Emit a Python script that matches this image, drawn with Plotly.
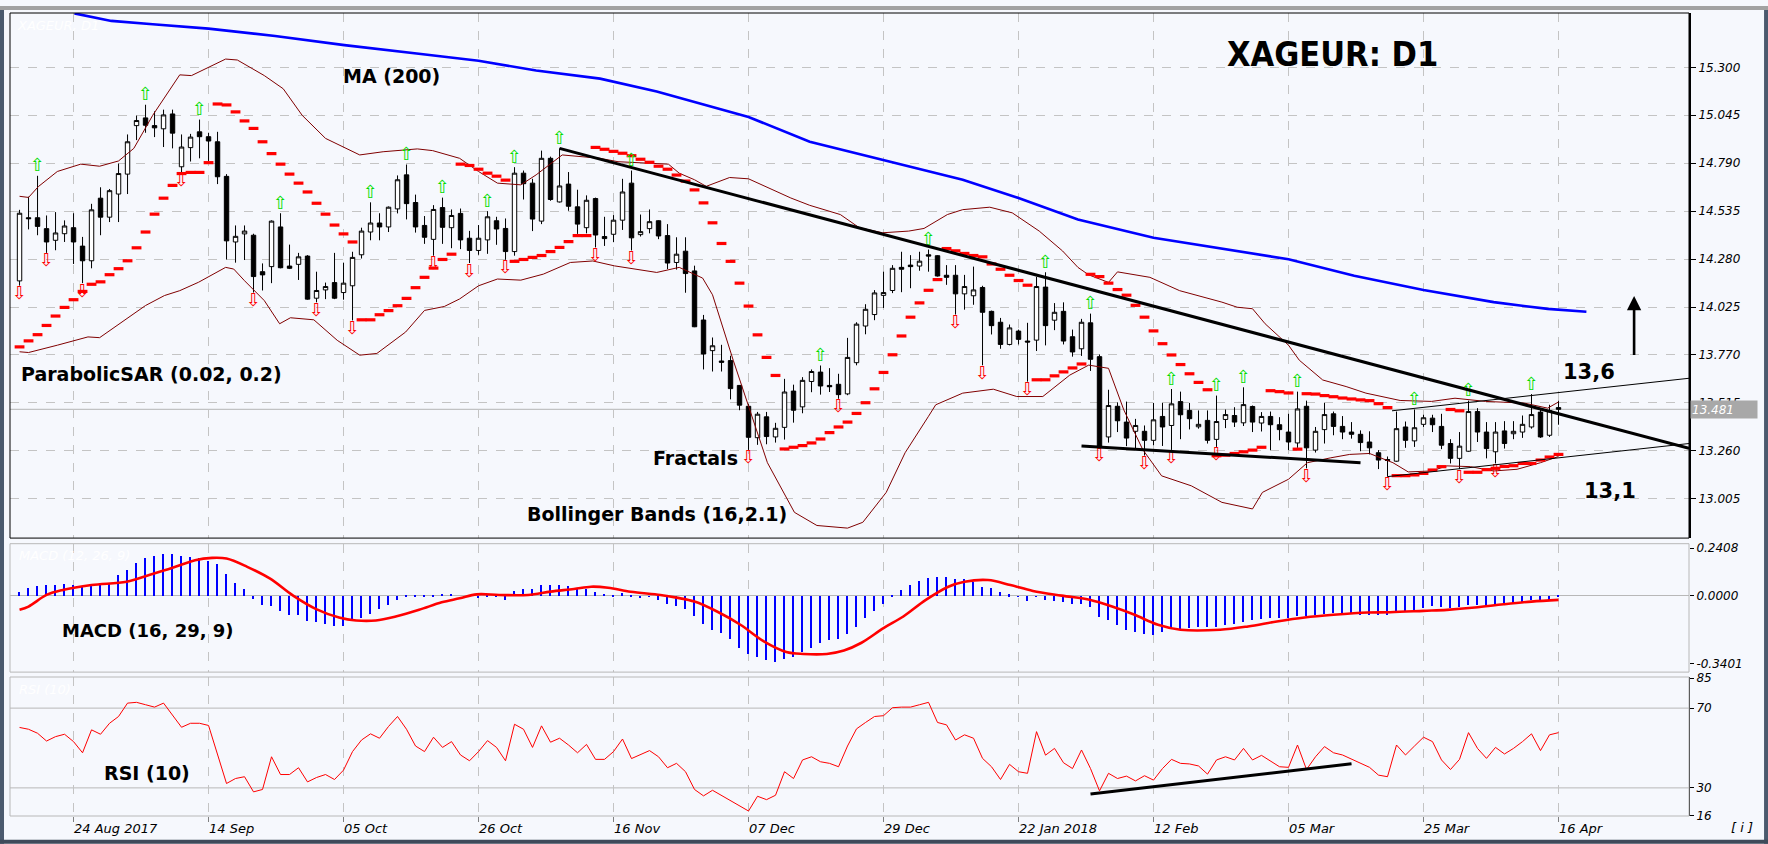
import plotly.graph_objects as go

# ---------------- data ----------------
tick_labels = ["24 Aug 2017", "14 Sep", "05 Oct", "26 Oct", "16 Nov", "07 Dec",
               "29 Dec", "22 Jan 2018", "12 Feb", "05 Mar", "25 Mar", "16 Apr"]
tick_bars = [6, 21, 36, 51, 66, 81, 96, 111, 126, 141, 156, 171]

opens = [14.164, 14.500, 14.500, 14.442, 14.380, 14.415, 14.447, 14.349, 14.271, 14.604,
         14.503, 14.626, 14.732, 14.990, 15.031, 14.990, 14.973, 15.052, 14.771, 14.873,
         14.957, 14.931, 14.904, 14.720, 14.371, 14.414, 14.407, 14.213, 14.240, 14.451,
         14.243, 14.252, 14.296, 14.072, 14.116, 14.155, 14.102, 14.138, 14.303, 14.424,
         14.472, 14.451, 14.547, 14.728, 14.581, 14.459, 14.385, 14.554, 14.447, 14.523,
         14.391, 14.326, 14.382, 14.484, 14.443, 14.320, 14.737, 14.684, 14.482, 14.816,
         14.584, 14.679, 14.558, 14.447, 14.602, 14.400, 14.412, 14.487, 14.684, 14.410,
         14.442, 14.484, 14.405, 14.262, 14.322, 14.217, 13.956, 13.793, 13.738, 13.740,
         13.608, 13.497, 13.330, 13.441, 13.334, 13.385, 13.578, 13.494, 13.629, 13.679,
         13.608, 13.614, 13.563, 13.729, 13.924, 13.985, 14.087, 14.113, 14.236, 14.248,
         14.243, 14.303, 14.298, 14.194, 14.194, 14.095, 14.085, 14.129, 14.002, 13.944,
         13.826, 13.897, 13.844, 13.849, 14.131, 13.955, 14.002, 13.867, 13.803, 13.941,
         13.761, 13.334, 13.497, 13.413, 13.364, 13.364, 13.316, 13.443, 13.395, 13.522,
         13.475, 13.388, 13.422, 13.321, 13.427, 13.448, 13.409, 13.496, 13.408, 13.443,
         13.399, 13.360, 13.302, 13.497, 13.264, 13.373, 13.457, 13.390, 13.360, 13.348,
         13.307, 13.250, 13.214, 13.205, 13.387, 13.313, 13.401, 13.434, 13.390, 13.299,
         13.220, 13.258, 13.469, 13.360, 13.255, 13.366, 13.351, 13.360, 13.387, 13.466,
         13.343, 13.490]
highs = [14.542, 14.612, 14.723, 14.512, 14.530, 14.486, 14.524, 14.398, 14.574, 14.662,
         14.653, 14.788, 14.943, 15.043, 15.101, 15.066, 15.075, 15.075, 14.943, 14.946,
         15.022, 14.952, 14.957, 14.732, 14.459, 14.459, 14.415, 14.257, 14.486, 14.524,
         14.357, 14.313, 14.301, 14.213, 14.155, 14.313, 14.261, 14.319, 14.447, 14.582,
         14.524, 14.560, 14.725, 14.783, 14.623, 14.509, 14.567, 14.607, 14.544, 14.549,
         14.430, 14.461, 14.535, 14.505, 14.496, 14.769, 14.751, 14.707, 14.857, 14.825,
         14.869, 14.743, 14.649, 14.619, 14.607, 14.505, 14.514, 14.707, 14.751, 14.517,
         14.544, 14.487, 14.466, 14.396, 14.396, 14.245, 13.983, 13.863, 13.824, 13.766,
         13.610, 13.511, 13.467, 13.467, 13.409, 13.643, 13.612, 13.652, 13.693, 13.714,
         13.700, 13.670, 13.861, 13.944, 14.040, 14.115, 14.213, 14.248, 14.319, 14.301,
         14.319, 14.331, 14.301, 14.248, 14.248, 14.196, 14.240, 14.138, 14.006, 13.967,
         13.932, 13.905, 13.941, 14.185, 14.210, 14.046, 14.050, 13.905, 13.962, 13.990,
         13.773, 13.585, 13.518, 13.522, 13.430, 13.395, 13.515, 13.515, 13.589, 13.575,
         13.515, 13.475, 13.475, 13.554, 13.480, 13.492, 13.598, 13.501, 13.466, 13.469,
         13.439, 13.457, 13.575, 13.527, 13.387, 13.515, 13.469, 13.445, 13.413, 13.369,
         13.364, 13.264, 13.230, 13.469, 13.416, 13.480, 13.452, 13.452, 13.457, 13.322,
         13.360, 13.527, 13.487, 13.413, 13.413, 13.418, 13.418, 13.448, 13.562, 13.480,
         13.505, 13.527]
lows = [14.139, 14.438, 14.407, 14.313, 14.327, 14.371, 14.254, 14.152, 14.231, 14.407,
        14.477, 14.477, 14.626, 14.913, 14.952, 14.929, 14.876, 14.869, 14.741, 14.799,
        14.816, 14.802, 14.679, 14.278, 14.261, 14.275, 14.102, 14.113, 14.152, 14.231,
        14.227, 14.169, 14.064, 14.050, 14.067, 14.067, 14.064, 13.954, 14.283, 14.380,
        14.380, 14.424, 14.523, 14.491, 14.421, 14.361, 14.298, 14.361, 14.338, 14.333,
        14.259, 14.303, 14.308, 14.356, 14.276, 14.298, 14.597, 14.429, 14.466, 14.590,
        14.581, 14.537, 14.414, 14.417, 14.342, 14.350, 14.370, 14.435, 14.326, 14.400,
        14.417, 14.386, 14.227, 14.224, 14.101, 13.918, 13.693, 13.682, 13.682, 13.534,
        13.476, 13.265, 13.292, 13.295, 13.304, 13.320, 13.410, 13.460, 13.572, 13.559,
        13.573, 13.537, 13.556, 13.715, 13.880, 13.955, 14.020, 14.099, 14.104, 14.125,
        14.218, 14.213, 14.187, 14.143, 13.985, 14.011, 14.037, 13.715, 13.879, 13.803,
        13.821, 13.826, 13.628, 13.791, 13.821, 13.902, 13.826, 13.761, 13.765, 13.685,
        13.276, 13.304, 13.360, 13.285, 13.270, 13.235, 13.290, 13.286, 13.265, 13.322,
        13.374, 13.378, 13.299, 13.281, 13.381, 13.387, 13.392, 13.360, 13.363, 13.264,
        13.316, 13.264, 13.276, 13.167, 13.251, 13.299, 13.343, 13.322, 13.325, 13.258,
        13.241, 13.163, 13.123, 13.202, 13.276, 13.281, 13.387, 13.360, 13.269, 13.193,
        13.163, 13.255, 13.307, 13.220, 13.193, 13.272, 13.322, 13.329, 13.378, 13.329,
        13.334, 13.399]
closes = [14.524, 14.495, 14.454, 14.371, 14.419, 14.456, 14.371, 14.271, 14.542, 14.503,
          14.644, 14.735, 14.904, 15.017, 14.992, 14.978, 15.047, 14.950, 14.876, 14.929,
          14.931, 14.908, 14.718, 14.377, 14.401, 14.429, 14.187, 14.196, 14.482, 14.234,
          14.231, 14.292, 14.067, 14.113, 14.134, 14.072, 14.152, 14.289, 14.429, 14.472,
          14.451, 14.556, 14.702, 14.575, 14.451, 14.396, 14.544, 14.449, 14.512, 14.382,
          14.326, 14.391, 14.505, 14.440, 14.320, 14.737, 14.681, 14.493, 14.816, 14.597,
          14.669, 14.561, 14.466, 14.593, 14.408, 14.389, 14.487, 14.637, 14.393, 14.426,
          14.479, 14.403, 14.259, 14.306, 14.203, 13.920, 13.775, 13.819, 13.731, 13.591,
          13.503, 13.332, 13.455, 13.336, 13.380, 13.573, 13.476, 13.635, 13.682, 13.605,
          13.601, 13.559, 13.757, 13.934, 14.013, 14.100, 14.102, 14.231, 14.226, 14.240,
          14.269, 14.296, 14.190, 14.183, 14.095, 14.134, 14.116, 13.997, 13.926, 13.826,
          13.914, 13.853, 13.839, 14.134, 13.926, 13.997, 13.844, 13.786, 13.944, 13.747,
          13.281, 13.501, 13.420, 13.328, 13.395, 13.316, 13.425, 13.387, 13.510, 13.452,
          13.431, 13.401, 13.316, 13.416, 13.453, 13.413, 13.506, 13.413, 13.443, 13.399,
          13.373, 13.307, 13.483, 13.276, 13.364, 13.453, 13.390, 13.360, 13.348, 13.304,
          13.276, 13.211, 13.209, 13.378, 13.316, 13.383, 13.436, 13.399, 13.290, 13.220,
          13.285, 13.469, 13.360, 13.272, 13.360, 13.299, 13.364, 13.401, 13.453, 13.334,
          13.474, 13.481]
bars = list(range(len(closes)))

parabolic_sar = [13.813, 13.845, 13.878, 13.927, 13.977, 14.023, 14.064, 14.108, 14.146, 14.159,
                 14.197, 14.229, 14.271, 14.340, 14.424, 14.519, 14.604, 14.672, 14.735, 14.741,
                 14.741, 14.793, 15.105, 15.100, 15.063, 15.015, 14.975, 14.904, 14.841, 14.785,
                 14.732, 14.684, 14.637, 14.577, 14.519, 14.461, 14.414, 14.371, 13.957, 13.957,
                 13.984, 14.006, 14.032, 14.071, 14.128, 14.183, 14.232, 14.278, 14.306, 14.785,
                 14.778, 14.758, 14.737, 14.721, 14.700, 14.268, 14.278, 14.289, 14.299, 14.320,
                 14.342, 14.373, 14.405, 14.405, 14.874, 14.864, 14.853, 14.843, 14.830, 14.811,
                 14.795, 14.774, 14.758, 14.727, 14.695, 14.648, 14.579, 14.473, 14.363, 14.268,
                 14.152, 14.030, 13.877, 13.757, 13.661, 13.270, 13.279, 13.288, 13.302, 13.323,
                 13.357, 13.387, 13.413, 13.459, 13.516, 13.590, 13.677, 13.771, 13.871, 13.971,
                 14.047, 14.114, 14.171, 14.336, 14.324, 14.310, 14.299, 14.292, 14.254, 14.226,
                 14.194, 14.166, 14.141, 13.638, 13.638, 13.659, 13.680, 13.701, 13.722, 14.199,
                 14.187, 14.152, 14.118, 14.088, 14.034, 13.971, 13.898, 13.830, 13.770, 13.719,
                 13.670, 13.624, 13.585, 13.234, 13.237, 13.246, 13.255, 13.264, 13.279, 13.580,
                 13.575, 13.568, 13.269, 13.564, 13.562, 13.554, 13.548, 13.541, 13.536, 13.531,
                 13.527, 13.511, 13.490, 13.128, 13.128, 13.132, 13.140, 13.158, 13.176, 13.480,
                 13.473, 13.146, 13.146, 13.160, 13.167, 13.177, 13.181, 13.193, 13.193, 13.211,
                 13.227, 13.241]

fractal_up_bars = [2, 14, 20, 29, 39, 43, 47, 52, 55, 60, 68, 89, 101, 114, 119, 128,
                   133, 136, 142, 155, 161, 168]
fractal_down_bars = [0, 3, 7, 18, 26, 33, 37, 46, 50, 54, 64, 68, 81, 91, 104, 107, 112,
                     120, 125, 128, 133, 143, 152, 160, 164]

ma200_bars = [6.1, 10.2, 14.8, 21, 28.4, 36.1, 44.6, 51, 57.4, 64.5, 70.8, 81, 87.8, 96,
              104.8, 111, 117.6, 126, 141, 148.3, 156, 163.8, 169.8, 174.1]
ma200_vals = [15.587, 15.547, 15.529, 15.506, 15.467, 15.418, 15.371, 15.335, 15.283, 15.24,
              15.172, 15.036, 14.904, 14.807, 14.702, 14.605, 14.491, 14.394, 14.279, 14.191,
              14.116, 14.051, 14.015, 14.0]

bb_upper_bars = [0, 1, 2.1, 4.2, 6.8, 8.9, 11, 12.7, 14.8, 17.8, 19.1, 21, 22.9, 24.2, 27.2,
                 29.3, 31.4, 34, 37.8, 40.4, 44.2, 45.9, 48.9, 51, 53.1, 55.7, 57.4, 60.3,
                 64.5, 66.5, 72.1, 73.3, 75, 76.3, 78.9, 81, 85.7, 87.8, 91.2, 93.3, 95.9,
                 98.8, 100.5, 103.1, 104.8, 107.8, 110.3, 113.3, 115.9, 117.6, 118.8, 121,
                 122, 125.6, 128.9, 133.6, 135.3, 137, 138.4, 141, 142.2, 144.8, 147.4,
                 149.6, 153.4, 156.9, 159.5, 162.9, 167.2, 169.8, 171]
bb_upper_vals = [14.614, 14.608, 14.666, 14.746, 14.785, 14.774, 14.802, 14.869, 15.045, 15.26,
                 15.256, 15.300, 15.344, 15.339, 15.256, 15.186, 15.045, 14.922, 14.834,
                 14.851, 14.866, 14.857, 14.816, 14.746, 14.684, 14.675, 14.728, 14.834,
                 14.816, 14.798, 14.785, 14.737, 14.702, 14.667, 14.714, 14.707, 14.605,
                 14.566, 14.517, 14.447, 14.42, 14.429, 14.443, 14.517, 14.543, 14.556,
                 14.526, 14.429, 14.323, 14.236, 14.196, 14.156, 14.212, 14.183, 14.112,
                 14.051, 14.024, 14.016, 13.936, 13.822, 13.742, 13.637, 13.602, 13.567,
                 13.528, 13.523, 13.540, 13.523, 13.514, 13.487, 13.52]
bb_lower_bars = [0, 1, 4.2, 7.6, 8.9, 10.6, 14, 16.1, 17.8, 19.9, 22.9, 23.8, 25, 27.2, 28.9,
                 30.1, 32.7, 35.3, 37.8, 39.7, 41.2, 42.9, 45, 47.2, 48.9, 51, 53.1, 55.7,
                 58.2, 61.2, 63.7, 66.1, 70.8, 73.3, 75.9, 77, 79.3, 81, 83.1, 86.1, 88.6,
                 92, 93.7, 96.3, 98.4, 101, 101.8, 104.8, 108.2, 110.8, 113.7, 116.7, 118.8,
                 121, 122.7, 124.8, 126.9, 130.2, 133.6, 137, 138.1, 141, 143.1, 145.7,
                 147.8, 150, 152.6, 154.3, 156.9, 158.6, 161.2, 163.8, 166.4, 169, 171]
bb_lower_vals = [13.787, 13.783, 13.822, 13.866, 13.862, 13.919, 14.033, 14.086, 14.112, 14.157,
                 14.236, 14.227, 14.165, 14.059, 13.936, 13.968, 13.957, 13.848, 13.769,
                 13.778, 13.831, 13.892, 14.007, 14.028, 14.068, 14.138, 14.174, 14.168,
                 14.2, 14.262, 14.27, 14.244, 14.209, 14.236, 14.179, 14.09, 13.742, 13.497,
                 13.197, 12.933, 12.863, 12.849, 12.88, 13.039, 13.25, 13.444, 13.505,
                 13.567, 13.588, 13.549, 13.549, 13.663, 13.716, 13.699, 13.478, 13.267,
                 13.127, 13.074, 12.986, 12.951, 13.039, 13.109, 13.197, 13.223, 13.241,
                 13.246, 13.197, 13.148, 13.153, 13.18, 13.176, 13.153, 13.162, 13.197, 13.23]

resistance_bars = [60, 185.5]
resistance_vals = [14.869, 13.273]
support_bars = [118, 149]
support_vals = [13.286, 13.197]
channel_top_bars = [152.5, 185.5]
channel_top_vals = [13.473, 13.646]
channel_bottom_bars = [152, 185.5]
channel_bottom_vals = [13.123, 13.299]

macd_hist = [0.0215, 0.043, 0.0515, 0.055, 0.058, 0.060, 0.058, 0.0465, 0.055, 0.063,
             0.068, 0.105, 0.130, 0.1665, 0.191, 0.2015, 0.2115, 0.2115, 0.2015, 0.198,
             0.191, 0.175, 0.163, 0.11, 0.0665, 0.038, -0.012, -0.045, -0.0485, -0.0735,
             -0.092, -0.095, -0.125, -0.132, -0.142, -0.150, -0.150, -0.120, -0.112, -0.087,
             -0.065, -0.042, -0.017, 0.008, 0.005, 0.0015, 0.008, 0.013, 0.013, 0.0,
             -0.0035, -0.007, 0.0015, 0.0015, -0.017, 0.025, 0.038, 0.038, 0.058, 0.058,
             0.058, 0.0515, 0.035, 0.035, 0.0215, 0.013, 0.008, 0.018, 0.005, -0.007,
             -0.0035, -0.017, -0.037, -0.0485, -0.062, -0.10, -0.142, -0.17, -0.187, -0.215,
             -0.262, -0.292, -0.308, -0.32, -0.332, -0.315, -0.308, -0.283, -0.262, -0.237,
             -0.22, -0.215, -0.192, -0.1535, -0.112, -0.0735, -0.037, 0.003, 0.03, 0.058,
             0.0765, 0.0915, 0.0965, 0.0965, 0.088, 0.088, 0.0715, 0.0465, 0.0415, 0.0215,
             0.01, -0.0035, -0.025, -0.0035, -0.017, -0.0235, -0.0285, -0.037, -0.037, -0.0535,
             -0.1035, -0.12, -0.145, -0.17, -0.1785, -0.192, -0.195, -0.1785, -0.162, -0.165,
             -0.162, -0.1535, -0.1535, -0.1535, -0.145, -0.142, -0.1285, -0.12, -0.115, -0.1085,
             -0.1085, -0.1085, -0.0985, -0.0985, -0.095, -0.087, -0.0835, -0.082, -0.087, -0.092,
             -0.092, -0.092, -0.095, -0.0785, -0.0785, -0.07, -0.0585, -0.0485, -0.0535, -0.0585,
             -0.0535, -0.042, -0.042, -0.042, -0.037, -0.037, -0.032, -0.0285, -0.02, -0.017,
             -0.02, 0.008]
macd_signal_bars = [0, 1, 3, 4.8, 8, 11.9, 14.4, 17, 19.5, 21.4, 23, 25.3, 27.8, 30.4, 32.9,
                    35.5, 37.4, 39.6, 41.8, 44.4, 46.9, 48.9, 50.8, 53.3, 56.5, 59, 61.6,
                    63.5, 65.4, 67.9, 71.2, 73, 75, 77.5, 80.1, 82.7, 85.2, 87.1, 89.7, 91.6,
                    93.5, 96, 98.2, 100.7, 103.2, 105, 107.6, 110.1, 112.6, 115.8, 119,
                    121.4, 123.9, 126.5, 129, 133.4, 136.5, 139.7, 142.8, 146, 149.8, 152.3,
                    156, 158.6, 161.7, 164.9, 168, 171]
macd_signal_vals = [-0.070, -0.0535, 0.005, 0.03, 0.055, 0.0715, 0.105, 0.1415, 0.18, 0.1915,
                    0.188, 0.1465, 0.088, 0.0015, -0.065, -0.1085, -0.1235, -0.1235, -0.1035,
                    -0.070, -0.032, -0.012, 0.008, 0.005, 0.005, 0.0215, 0.035, 0.0465, 0.0415,
                    0.0215, 0.005, -0.0085, -0.0285, -0.0785, -0.145, -0.2285, -0.282, -0.292,
                    -0.292, -0.275, -0.237, -0.162, -0.1035, -0.02, 0.0465, 0.0715, 0.08, 0.055,
                    0.025, 0.0015, -0.02, -0.0535, -0.095, -0.145, -0.17, -0.17, -0.1535,
                    -0.1285, -0.1085, -0.095, -0.0835, -0.082, -0.075, -0.070, -0.0585,
                    -0.042, -0.0285, -0.02]

rsi = [60.3, 59.4, 57.4, 53.5, 55.7, 56.9, 53.2, 47.6, 59.1, 56.9,
       62.4, 65.8, 72.5, 72.9, 71.7, 70.5, 72.5, 66.6, 60.4, 62.4,
       62.4, 61.3, 47.3, 32.2, 34.7, 35.6, 28.0, 29.2, 45.6, 36.7,
       36.7, 40.1, 33.0, 35.2, 36.7, 34.2, 38.9, 48.2, 54.0, 57.1,
       54.9, 60.8, 65.8, 59.4, 51.0, 48.2, 55.4, 50.3, 53.2, 46.5,
       43.6, 48.2, 53.7, 50.3, 43.6, 61.9, 59.4, 50.3, 61.1, 52.9,
       54.9, 51.5, 47.6, 51.8, 44.3, 44.3, 48.2, 54.5, 44.7, 46.5,
       48.7, 45.6, 40.1, 42.3, 38.1, 29.2, 26.0, 28.8, 26.3, 23.4,
       21.3, 18.4, 25.8, 24.1, 26.3, 38.1, 34.7, 44.0, 45.6, 43.1,
       42.3, 40.6, 51.0, 59.6, 62.8, 65.8, 66.2, 70.2, 70.5, 70.5,
       71.7, 72.9, 62.8, 61.6, 54.0, 56.6, 54.9, 44.8, 40.6, 34.2,
       41.8, 38.1, 37.3, 58.2, 46.4, 49.8, 42.6, 39.7, 49.0, 39.7,
       28.5, 37.3, 34.7, 35.9, 33.5, 36.1, 33.9, 39.7, 44.3, 42.3,
       42.0, 41.0, 36.9, 44.0, 45.6, 44.0, 49.8, 44.0, 46.3, 43.6,
       40.6, 40.3, 51.5, 39.2, 45.6, 50.7, 47.6, 46.5, 44.3, 42.3,
       40.3, 36.4, 35.6, 51.5, 46.5, 51.0, 55.4, 53.2, 44.0, 39.2,
       44.3, 57.7, 49.8, 44.8, 50.3, 47.0, 49.8, 53.2, 57.1, 48.7,
       56.6, 57.7]
rsi_trend_bars = [119, 148]
rsi_trend_vals = [26.9, 42.1]

price_ticks = [13.005, 13.260, 13.515, 13.770, 14.025, 14.280, 14.535, 14.790, 15.045, 15.300]
macd_ticks = [0.2408, 0.0, -0.3401]
rsi_ticks = [16, 30, 70, 85]

# ---------------- styling ----------------
BG = "#F6F8FD"
GRID = "#C4C4C4"
PANEL = "#B8B8B8"
FONT = "DejaVu Sans"

fig = go.Figure()

fig.add_trace(go.Candlestick(
    x=bars, open=opens, high=highs, low=lows, close=closes,
    increasing=dict(line=dict(color="black", width=1), fillcolor="white"),
    decreasing=dict(line=dict(color="black", width=1), fillcolor="black"),
    whiskerwidth=0, xaxis="x", yaxis="y", hoverinfo="skip", showlegend=False))

fig.add_trace(go.Scatter(x=bb_upper_bars, y=bb_upper_vals, mode="lines",
                         line=dict(color="#800000", width=1), xaxis="x", yaxis="y"))
fig.add_trace(go.Scatter(x=bb_lower_bars, y=bb_lower_vals, mode="lines",
                         line=dict(color="#800000", width=1), xaxis="x", yaxis="y"))
fig.add_trace(go.Scatter(x=ma200_bars, y=ma200_vals, mode="lines",
                         line=dict(color="#0000FF", width=2.6), xaxis="x", yaxis="y"))
fig.add_trace(go.Scatter(x=bars, y=parabolic_sar, mode="markers",
                         marker=dict(symbol="line-ew", size=7,
                                     line=dict(color="#FF0000", width=3.2)),
                         xaxis="x", yaxis="y"))
fig.add_trace(go.Scatter(x=fractal_up_bars, y=[highs[i] for i in fractal_up_bars],
                         mode="text", text=["\u21e7"] * len(fractal_up_bars),
                         textposition="top center",
                         textfont=dict(color="#00DD00", size=18, family=FONT),
                         xaxis="x", yaxis="y"))
fig.add_trace(go.Scatter(x=fractal_down_bars, y=[lows[i] for i in fractal_down_bars],
                         mode="text", text=["\u21e9"] * len(fractal_down_bars),
                         textposition="bottom center",
                         textfont=dict(color="#FF0000", size=18, family=FONT),
                         xaxis="x", yaxis="y"))
fig.add_trace(go.Scatter(x=resistance_bars, y=resistance_vals, mode="lines",
                         line=dict(color="black", width=3), xaxis="x", yaxis="y"))
fig.add_trace(go.Scatter(x=support_bars, y=support_vals, mode="lines",
                         line=dict(color="black", width=3), xaxis="x", yaxis="y"))
fig.add_trace(go.Scatter(x=channel_top_bars, y=channel_top_vals, mode="lines",
                         line=dict(color="black", width=1), xaxis="x", yaxis="y"))
fig.add_trace(go.Scatter(x=channel_bottom_bars, y=channel_bottom_vals, mode="lines",
                         line=dict(color="black", width=1), xaxis="x", yaxis="y"))

fig.add_trace(go.Bar(x=bars, y=macd_hist, width=0.13,
                     marker=dict(color="#0000FF", line=dict(width=0)),
                     xaxis="x2", yaxis="y2"))
fig.add_trace(go.Scatter(x=macd_signal_bars, y=macd_signal_vals, mode="lines",
                         line=dict(color="#FF0000", width=2.6, shape="spline"),
                         xaxis="x2", yaxis="y2"))

fig.add_trace(go.Scatter(x=bars, y=rsi, mode="lines",
                         line=dict(color="#FF0000", width=1), xaxis="x3", yaxis="y3"))
fig.add_trace(go.Scatter(x=rsi_trend_bars, y=rsi_trend_vals, mode="lines",
                         line=dict(color="black", width=3), xaxis="x3", yaxis="y3"))

xcommon = dict(range=[-1.06, 185.5], tickvals=tick_bars, showgrid=True, gridcolor=GRID,
               griddash="dash", gridwidth=1, zeroline=False, showline=False, fixedrange=True)
tick_font = dict(family=FONT, size=12, color="black", style="italic")

fig.update_layout(
    width=1768, height=844,
    margin=dict(l=10, r=79, t=7, b=28),
    paper_bgcolor=BG, plot_bgcolor=BG,
    showlegend=False, bargap=0,
    font=dict(family=FONT, color="black"),
    xaxis=dict(domain=[0, 1], anchor="y", showticklabels=False, ticks="",
               rangeslider=dict(visible=False), **xcommon),
    xaxis2=dict(domain=[0, 1], anchor="y2", matches="x", showticklabels=False, ticks="",
                **xcommon),
    xaxis3=dict(domain=[0, 1], anchor="y3", matches="x", ticktext=tick_labels,
                ticklabelposition="outside right", ticks="outside", ticklen=5,
                tickcolor="#808080",
                tickfont=dict(family=FONT, size=13, color="black", style="italic"),
                **xcommon),
    yaxis=dict(domain=[0.3461, 1.0], range=[12.796, 15.589], side="right", anchor="x",
               tickvals=price_ticks, ticktext=[f"{v:.3f}" for v in price_ticks],
               showgrid=True, gridcolor=GRID, griddash="dash", zeroline=False,
               ticks="outside", ticklen=5, tickcolor="black", showline=True,
               linecolor="black", linewidth=2, tickfont=tick_font, fixedrange=True),
    yaxis2=dict(domain=[0.1792, 0.3391], range=[-0.3835, 0.263], side="right", anchor="x2",
                tickvals=macd_ticks, ticktext=["0.2408", "0.0000", "-0.3401"],
                showgrid=False, zeroline=True, zerolinecolor=PANEL, zerolinewidth=1,
                ticks="outside", ticklen=4, tickcolor="black", showline=False,
                tickfont=tick_font, fixedrange=True),
    yaxis3=dict(domain=[0.0, 0.1731], range=[15.9, 85.6], side="right", anchor="x3",
                tickvals=rsi_ticks, ticktext=[str(v) for v in rsi_ticks],
                showgrid=False, zeroline=False, ticks="outside", ticklen=4,
                tickcolor="black", showline=True, linecolor="black", linewidth=1,
                tickfont=tick_font, fixedrange=True),
)

shapes = [
    # panel frames
    dict(type="rect", xref="x domain", yref="y domain", x0=0, x1=1, y0=0, y1=1,
         line=dict(color="black", width=1), layer="above"),
    dict(type="rect", xref="x2 domain", yref="y2 domain", x0=0, x1=1, y0=0, y1=1,
         line=dict(color=PANEL, width=1), layer="above"),
    dict(type="rect", xref="x3 domain", yref="y3 domain", x0=0, x1=1, y0=0, y1=1,
         line=dict(color=PANEL, width=1), layer="above"),
    # current price line
    dict(type="line", xref="x domain", yref="y", x0=0, x1=1, y0=closes[-1], y1=closes[-1],
         line=dict(color="#B4B4B4", width=1), layer="below"),
    # RSI levels
    dict(type="line", xref="x3 domain", yref="y3", x0=0, x1=1, y0=70, y1=70,
         line=dict(color=PANEL, width=1), layer="below"),
    dict(type="line", xref="x3 domain", yref="y3", x0=0, x1=1, y0=30, y1=30,
         line=dict(color=PANEL, width=1), layer="below"),
    # window frame strips
    dict(type="rect", xref="paper", yref="paper", x0=-0.00596, x1=-0.00357,
         y0=-0.0346, y1=1.0087, line=dict(width=0), fillcolor="#4B5A6E"),
    dict(type="rect", xref="paper", yref="paper", x0=1.0447, x1=1.0471,
         y0=-0.0346, y1=1.0087, line=dict(width=0), fillcolor="#4B5A6E"),
    dict(type="rect", xref="paper", yref="paper", x0=-0.00596, x1=1.0471,
         y0=-0.0346, y1=-0.0297, line=dict(width=0), fillcolor="#3E4A5A"),
    dict(type="rect", xref="paper", yref="paper", x0=-0.00596, x1=1.0471,
         y0=1.0037, y1=1.0087, line=dict(width=0), fillcolor="#A2A2A2"),
]
fig.update_layout(shapes=shapes)

bold = lambda s: f"<b>{s}</b>"
ann = []
def label(text, x, y, size, yref="y", xref="x"):
    ann.append(dict(text=bold(text), x=x, y=y, xref=xref, yref=yref, xanchor="left",
                    yanchor="middle", showarrow=False,
                    font=dict(family=FONT, size=size, color="black")))

label("MA (200)", 35.7, 15.256, 19)
label("ParabolicSAR (0.02, 0.2)", -0.05, 13.669, 19)
label("Fractals", 70.2, 13.224, 19)
label("Bollinger Bands (16,2.1)", 56.2, 12.924, 19)
label("13,6", 171.3, 13.681, 21)
label("13,1", 173.6, 13.047, 21)
label("MACD (16, 29, 9)", 4.5, -0.175, 18, yref="y2", xref="x2")
label("RSI (10)", 9.2, 37.5, 19, yref="y3", xref="x3")

ann.append(dict(text="<b>XAGEUR: D1</b>", x=133.9, y=15.371, xref="x", yref="y",
                xanchor="left", yanchor="middle", showarrow=False,
                font=dict(family="DejaVu Sans Condensed, DejaVu Sans", size=34,
                          color="black")))

# faint window captions
for txt, x, y, xr, yr in [("XAGEUR, D1", -0.5, 15.52, "x", "y"),
                          ("MACD (12, 26, 9)", -0.3, 0.2015, "x2", "y2"),
                          ("RSI (10)", -0.3, 79.1, "x3", "y3")]:
    ann.append(dict(text=txt, x=x, y=y, xref=xr, yref=yr, xanchor="left",
                    yanchor="middle", showarrow=False,
                    font=dict(family=FONT, size=13, color="white", style="italic")))

# up arrow
ann.append(dict(x=179.4, y=14.084, ax=179.4, ay=13.762, xref="x", yref="y",
                axref="x", ayref="y", showarrow=True, arrowhead=2, arrowsize=1.1,
                arrowwidth=2.6, arrowcolor="black", text=""))

# last price tag
ann.append(dict(text=f"{closes[-1]:.3f}", x=1, y=closes[-1], xref="paper", yref="y",
                xanchor="left", yanchor="middle", xshift=1, showarrow=False,
                bgcolor="#A8A8A8", width=64, height=15, borderpad=1, align="left",
                font=dict(family=FONT, size=12, color="white", style="italic")))

# info bracket
ann.append(dict(text="[ i ]", x=1.0316, y=-0.0148, xref="paper", yref="paper",
                xanchor="center", yanchor="middle", showarrow=False,
                font=dict(family=FONT, size=13, color="black", style="italic")))

fig.update_layout(annotations=ann)

fig.write_html("out.html")
